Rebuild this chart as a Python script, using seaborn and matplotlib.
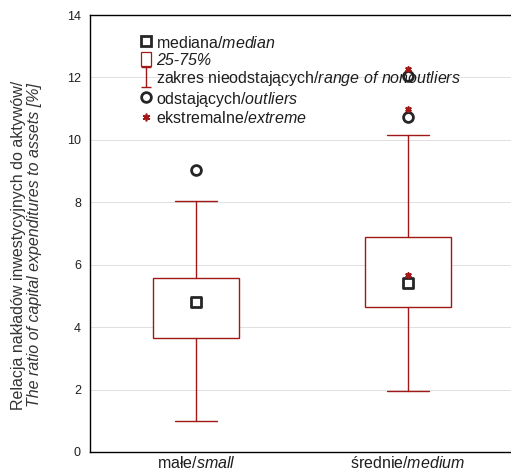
import numpy as np
import pandas as pd
import seaborn as sns
import matplotlib
matplotlib.use('Agg')
import matplotlib.pyplot as plt
from matplotlib.lines import Line2D
from matplotlib.patches import Patch
from matplotlib.path import Path

# values
groups = [r'małe/$\it{small}$', r'średnie/$\it{medium}$']
medians = [4.80, 5.42]
q1 = [3.65, 4.65]
q3 = [5.57, 6.89]
whislo = [1.00, 1.97]
whishi = [8.05, 10.17]
outlier_group = [0, 1, 1]
outlier_vals = [9.02, 10.73, 12.05]
extreme_group = [1, 1, 1]
extreme_vals = [5.67, 11.00, 12.27]
yticks = [0, 2, 4, 6, 8, 10, 12, 14]

sns.set_theme(style="white")
matplotlib.rcParams['font.family'] = ['Liberation Sans', 'DejaVu Sans']
matplotlib.rcParams['mathtext.fontset'] = 'custom'
matplotlib.rcParams['mathtext.rm'] = 'Liberation Sans'
matplotlib.rcParams['mathtext.it'] = 'Liberation Sans:italic'
matplotlib.rcParams['mathtext.bf'] = 'Liberation Sans:bold'

red = '#a01818'
dark = '#262626'
txt = '#1e1e1e'

fig = plt.figure(figsize=(5.11, 4.72), dpi=100)
ax = fig.add_axes([90/511, 20/472, 421/511, 437/472])

stats = [dict(med=m, q1=a, q3=b, whislo=lo, whishi=hi, fliers=[])
         for m, a, b, lo, hi in zip(medians, q1, q3, whislo, whishi)]
ax.bxp(stats, positions=[0, 1], widths=0.41, capwidths=0.2, showfliers=False,
       patch_artist=True,
       boxprops=dict(facecolor='white', edgecolor=red, linewidth=1.0, zorder=3),
       whiskerprops=dict(color=red, linewidth=1.0, zorder=3),
       capprops=dict(color=red, linewidth=1.0, zorder=3),
       medianprops=dict(linewidth=0, visible=False))

med_df = pd.DataFrame({'pos': [0, 1], 'val': medians})
sns.scatterplot(data=med_df, x='pos', y='val', marker='s', s=50, facecolor='white',
                edgecolor=dark, linewidth=2.0, zorder=5, ax=ax)
out_df = pd.DataFrame({'pos': outlier_group, 'val': outlier_vals})
sns.scatterplot(data=out_df, x='pos', y='val', marker='o', s=50, facecolor='white',
                edgecolor=dark, linewidth=2.0, zorder=5, ax=ax)
ext_df = pd.DataFrame({'pos': extreme_group, 'val': extreme_vals})
sns.scatterplot(data=ext_df, x='pos', y='val', marker=(6, 2, 0), s=14, color=red,
                linewidth=1.2, zorder=6, ax=ax)

ax.set_xlim(-0.5, 1.486)
ax.set_ylim(0, 14)
ax.set_yticks(yticks)
ax.set_yticklabels([str(t) for t in yticks], fontsize=9, color=txt)
ax.set_xticks([0, 1])
ax.set_xticklabels(groups, fontsize=11.5, color=txt)
ax.tick_params(axis='x', direction='in', length=3, width=0.8, color='#333333', pad=2)
ax.tick_params(axis='y', direction='inout', length=3, width=0.8, color='#333333', pad=5)
ax.yaxis.grid(True, color='#e0e0e0', linewidth=0.7, zorder=0)
ax.set_axisbelow(True)
for s in ['left', 'bottom', 'top']:
    ax.spines[s].set_color('black')
    ax.spines[s].set_linewidth(1.0)
ax.spines['right'].set_visible(False)
ax.set_xlabel('')
ax.set_ylabel('')

# two-line y label: upright Polish line, italic English line
fig.text(19/511, (472 - 245)/472, 'Relacja nakładów inwestycyjnych do aktywów/',
         rotation=90, ha='center', va='center', fontsize=11.5, color='#333333')
fig.text(35/511, (472 - 245)/472, 'The ratio of capital expenditures to assets [%]',
         rotation=90, ha='center', va='center', fontsize=11.5, color='#333333',
         fontstyle='italic')

range_marker = Path([(-0.5, 1), (0.5, 1), (0, 1), (0, -1), (-0.5, -1), (0.5, -1)],
                    [Path.MOVETO, Path.LINETO, Path.MOVETO, Path.LINETO, Path.MOVETO, Path.LINETO])
handles = [
    Line2D([], [], marker='s', linestyle='none', markersize=7, markerfacecolor='white',
           markeredgecolor=dark, markeredgewidth=2.0),
    Patch(facecolor='white', edgecolor=red, linewidth=0.9),
    Line2D([], [], marker=range_marker, linestyle='none', markersize=14,
           markeredgecolor=red, markeredgewidth=1.0),
    Line2D([], [], marker='o', linestyle='none', markersize=7, markerfacecolor='white',
           markeredgecolor=dark, markeredgewidth=2.0),
    Line2D([], [], marker=(6, 2, 0), linestyle='none', markersize=5.5,
           markeredgecolor=red, markeredgewidth=1.2),
]
labels = [r'mediana/$\it{median}$', '25-75%',
          r'zakres nieodstających/$\it{range\ of\ nonoutliers}$',
          r'odstających/$\it{outliers}$', r'ekstremalne/$\it{extreme}$']
leg = ax.legend(handles, labels, loc='upper left', bbox_to_anchor=(0.12, 0.955),
                frameon=False, fontsize=11.5, handlelength=0.65, handleheight=1.0,
                handletextpad=0.3, labelspacing=0.09, borderpad=0, borderaxespad=0)
leg.get_texts()[1].set_fontstyle('italic')
for t in leg.get_texts():
    t.set_color(txt)

fig.savefig('out.png', dpi=100)
